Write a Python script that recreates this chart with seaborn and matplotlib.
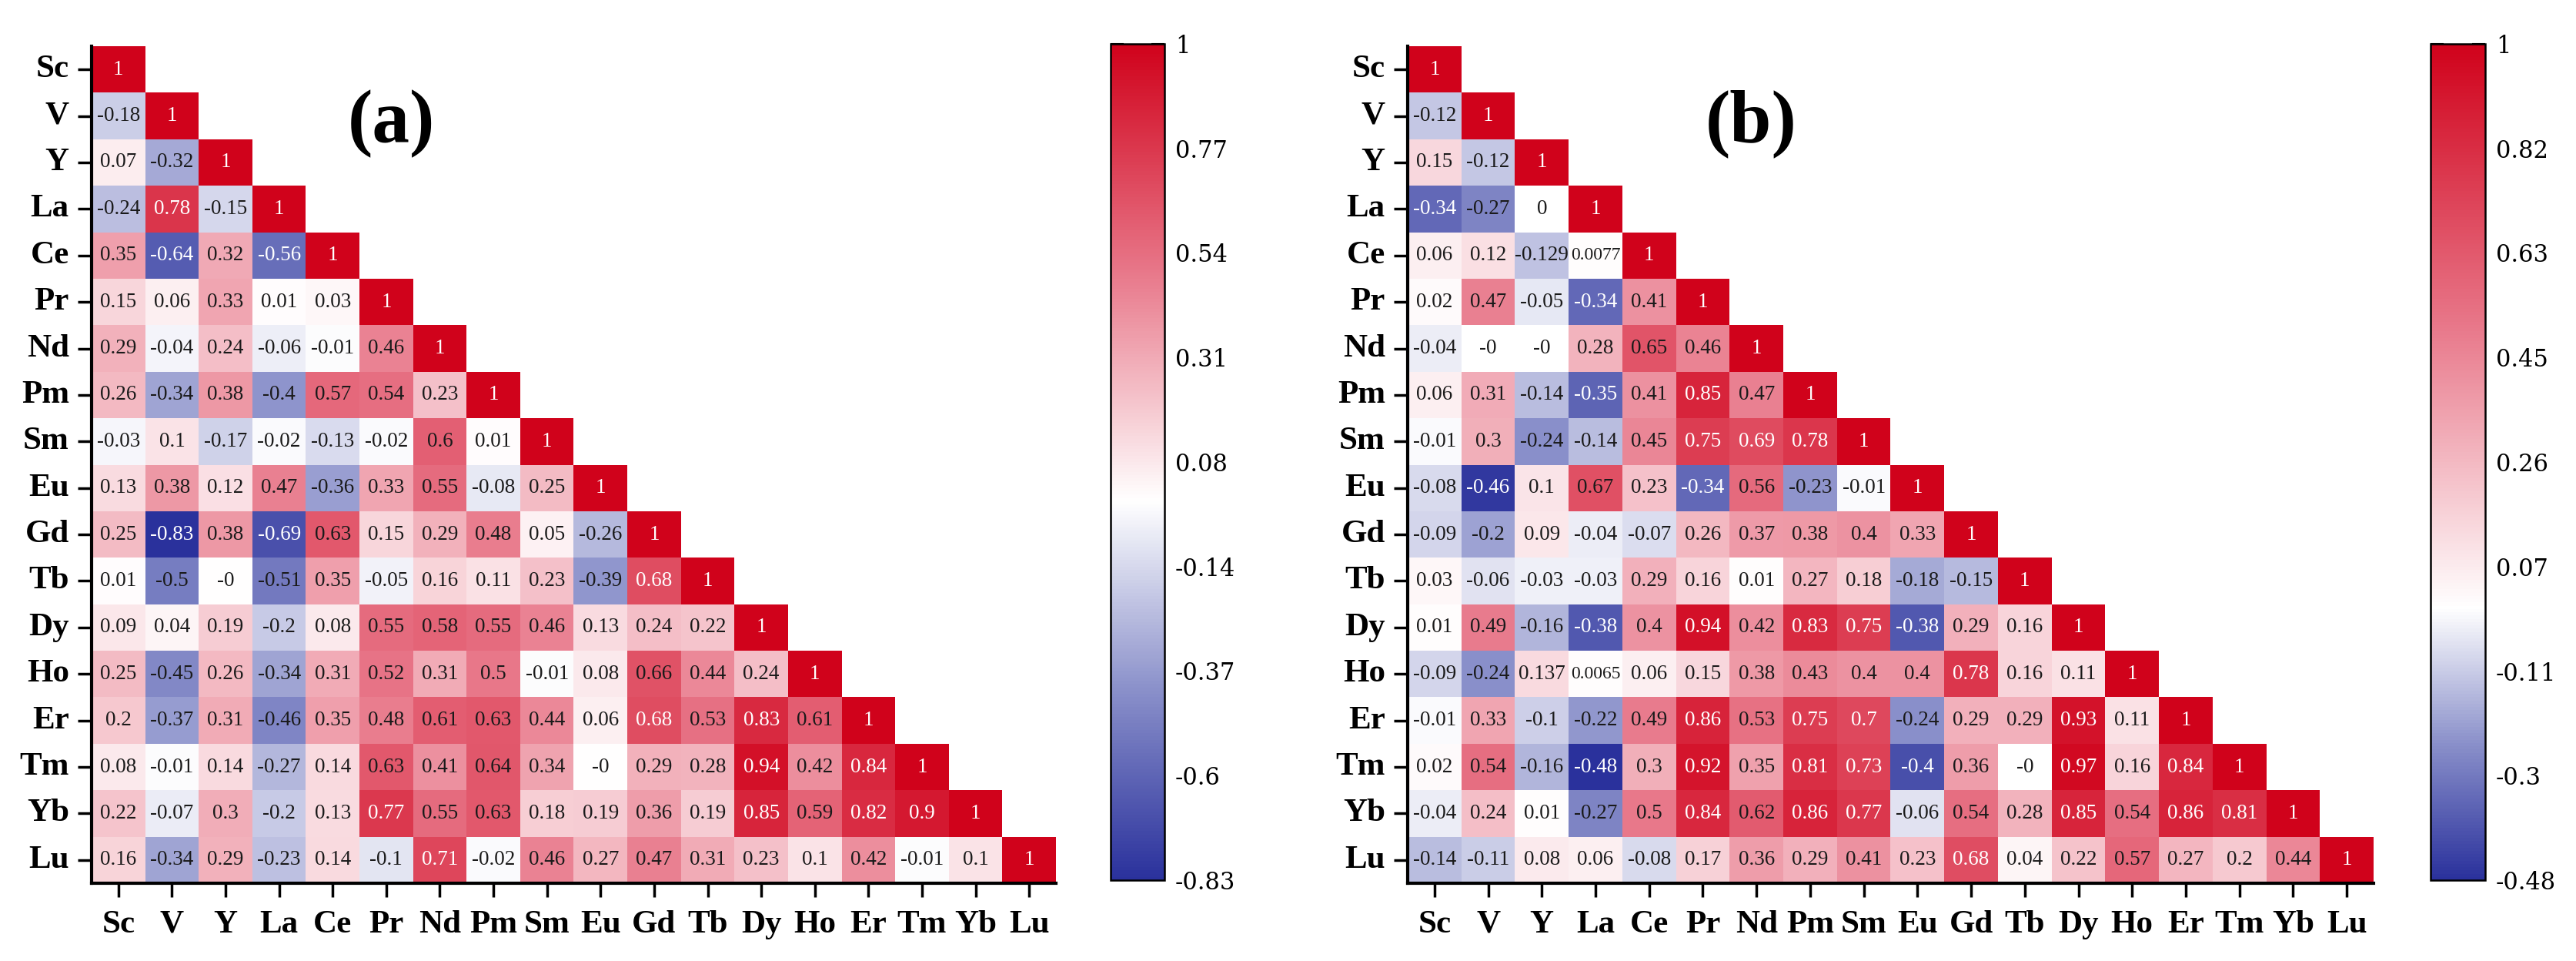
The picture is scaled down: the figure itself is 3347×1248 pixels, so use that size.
import numpy as np
import pandas as pd
import matplotlib
matplotlib.use("Agg")
import matplotlib.pyplot as plt
from matplotlib.colors import LinearSegmentedColormap
import seaborn as sns

elements = ["Sc", "V", "Y", "La", "Ce", "Pr", "Nd", "Pm", "Sm", "Eu",
            "Gd", "Tb", "Dy", "Ho", "Er", "Tm", "Yb", "Lu"]

# lower triangle, row by row (Sc ... Lu)
corr_a = [
    [1],
    [-0.18, 1],
    [0.07, -0.32, 1],
    [-0.24, 0.78, -0.15, 1],
    [0.35, -0.64, 0.32, -0.56, 1],
    [0.15, 0.06, 0.33, 0.01, 0.03, 1],
    [0.29, -0.04, 0.24, -0.06, -0.01, 0.46, 1],
    [0.26, -0.34, 0.38, -0.4, 0.57, 0.54, 0.23, 1],
    [-0.03, 0.1, -0.17, -0.02, -0.13, -0.02, 0.6, 0.01, 1],
    [0.13, 0.38, 0.12, 0.47, -0.36, 0.33, 0.55, -0.08, 0.25, 1],
    [0.25, -0.83, 0.38, -0.69, 0.63, 0.15, 0.29, 0.48, 0.05, -0.26, 1],
    [0.01, -0.5, -0.0, -0.51, 0.35, -0.05, 0.16, 0.11, 0.23, -0.39, 0.68, 1],
    [0.09, 0.04, 0.19, -0.2, 0.08, 0.55, 0.58, 0.55, 0.46, 0.13, 0.24, 0.22, 1],
    [0.25, -0.45, 0.26, -0.34, 0.31, 0.52, 0.31, 0.5, -0.01, 0.08, 0.66, 0.44, 0.24, 1],
    [0.2, -0.37, 0.31, -0.46, 0.35, 0.48, 0.61, 0.63, 0.44, 0.06, 0.68, 0.53, 0.83, 0.61, 1],
    [0.08, -0.01, 0.14, -0.27, 0.14, 0.63, 0.41, 0.64, 0.34, -0.0, 0.29, 0.28, 0.94, 0.42, 0.84, 1],
    [0.22, -0.07, 0.3, -0.2, 0.13, 0.77, 0.55, 0.63, 0.18, 0.19, 0.36, 0.19, 0.85, 0.59, 0.82, 0.9, 1],
    [0.16, -0.34, 0.29, -0.23, 0.14, -0.1, 0.71, -0.02, 0.46, 0.27, 0.47, 0.31, 0.23, 0.1, 0.42, -0.01, 0.1, 1],
]

corr_b = [
    [1],
    [-0.12, 1],
    [0.15, -0.12, 1],
    [-0.34, -0.27, 0, 1],
    [0.06, 0.12, -0.129, 0.0077, 1],
    [0.02, 0.47, -0.05, -0.34, 0.41, 1],
    [-0.04, -0.0, -0.0, 0.28, 0.65, 0.46, 1],
    [0.06, 0.31, -0.14, -0.35, 0.41, 0.85, 0.47, 1],
    [-0.01, 0.3, -0.24, -0.14, 0.45, 0.75, 0.69, 0.78, 1],
    [-0.08, -0.46, 0.1, 0.67, 0.23, -0.34, 0.56, -0.23, -0.01, 1],
    [-0.09, -0.2, 0.09, -0.04, -0.07, 0.26, 0.37, 0.38, 0.4, 0.33, 1],
    [0.03, -0.06, -0.03, -0.03, 0.29, 0.16, 0.01, 0.27, 0.18, -0.18, -0.15, 1],
    [0.01, 0.49, -0.16, -0.38, 0.4, 0.94, 0.42, 0.83, 0.75, -0.38, 0.29, 0.16, 1],
    [-0.09, -0.24, 0.137, 0.0065, 0.06, 0.15, 0.38, 0.43, 0.4, 0.4, 0.78, 0.16, 0.11, 1],
    [-0.01, 0.33, -0.1, -0.22, 0.49, 0.86, 0.53, 0.75, 0.7, -0.24, 0.29, 0.29, 0.93, 0.11, 1],
    [0.02, 0.54, -0.16, -0.48, 0.3, 0.92, 0.35, 0.81, 0.73, -0.4, 0.36, -0.0, 0.97, 0.16, 0.84, 1],
    [-0.04, 0.24, 0.01, -0.27, 0.5, 0.84, 0.62, 0.86, 0.77, -0.06, 0.54, 0.28, 0.85, 0.54, 0.86, 0.81, 1],
    [-0.14, -0.11, 0.08, 0.06, -0.08, 0.17, 0.36, 0.29, 0.41, 0.23, 0.68, 0.04, 0.22, 0.57, 0.27, 0.2, 0.44, 1],
]

cbar_labels_a = ["-0.83", "-0.6", "-0.37", "-0.14", "0.08", "0.31", "0.54", "0.77", "1"]
cbar_labels_b = ["-0.48", "-0.3", "-0.11", "0.07", "0.26", "0.45", "0.63", "0.82", "1"]

sns.set_style("white")
plt.rcParams["font.family"] = ["Liberation Serif", "DejaVu Serif"]
plt.rcParams["text.color"] = "black"
plt.rcParams["xtick.color"] = "black"
plt.rcParams["ytick.color"] = "black"

W, H = 3348, 1248
fig = plt.figure(figsize=(W / 100, H / 100), dpi=100)


def px_rect(x0, x1, y0, y1):
    return [x0 / W, 1 - y1 / H, (x1 - x0) / W, (y1 - y0) / H]


def fmt(v):
    return f"{v:.4f}".rstrip("0").rstrip(".")


def panel(rows, cbar_labels, rect, crect, tag, tag_x):
    n = len(elements)
    mat = np.full((n, n), np.nan)
    for i, r in enumerate(rows):
        mat[i, :len(r)] = r
    df = pd.DataFrame(mat, index=elements, columns=elements)
    vmin = float(cbar_labels[0])
    mid = -vmin / (1 - vmin)
    cmap = LinearSegmentedColormap.from_list(
        "rb", [(0, "#2A319C"), (mid * 0.5, "#8A90CA"), (mid, "#FFFFFF"),
               ((mid + 1) / 2, "#E8788A"), (1, "#D0021B")])
    labels = np.empty((n, n), dtype=object)
    for i in range(n):
        for j in range(n):
            labels[i, j] = fmt(mat[i, j]) if j <= i else ""
    mask = np.triu(np.ones((n, n), dtype=bool), k=1)

    ax = fig.add_axes(px_rect(*rect))
    cax = fig.add_axes(px_rect(*crect))
    sns.heatmap(df, mask=mask, cmap=cmap, vmin=vmin, vmax=1, annot=labels, fmt="",
                annot_kws={"fontsize": 19.5}, cbar_ax=cax, ax=ax)

    cells = [(i, j) for i in range(n) for j in range(n) if j <= i]
    for (i, j), t in zip(cells, ax.texts):
        v = mat[i, j]
        norm = v if v >= 0 else v / abs(vmin)
        t.set_color("white" if (norm >= 0.675 or norm <= -0.67) else "#1a1a1a")
        if 0 < abs(v) < 0.01:
            t.set_fontsize(17)

    for side in ["left", "bottom"]:
        ax.spines[side].set_visible(True)
        ax.spines[side].set_linewidth(3)
        ax.spines[side].set_color("black")
    ax.tick_params(axis="both", direction="out", length=13, width=2.5,
                   colors="black", left=True, bottom=True)
    ax.tick_params(axis="x", pad=12)
    ax.tick_params(axis="y", pad=8)
    ax.set_xticklabels(elements, rotation=0, fontsize=31, fontweight="bold")
    ax.set_yticklabels(elements, rotation=0, fontsize=31, fontweight="bold")
    ax.set_xlabel("")
    ax.set_ylabel("")
    ax.text(tag_x, 1.66, tag, fontsize=70, fontweight="bold", color="black",
            ha="center", va="center")

    cbar = ax.collections[0].colorbar
    ticks = np.linspace(vmin, 1, len(cbar_labels))
    cbar.set_ticks(ticks)
    cbar.set_ticklabels(cbar_labels)
    cbar.outline.set_linewidth(1.8)
    cbar.outline.set_edgecolor("black")
    cax.tick_params(axis="y", direction="in", left=True, right=True, labelleft=False,
                    labelright=True, length=12, width=1.5, pad=10, labelsize=22,
                    colors="black")
    for t in cax.get_yticklabels():
        t.set_fontfamily("DejaVu Serif")
    return ax


panel(corr_a, cbar_labels_a, (119, 1372, 60, 1147), (1443, 1513, 57, 1143), "(a)", 5.6)
panel(corr_b, cbar_labels_b, (1829, 3084, 60, 1147), (3158, 3229, 57, 1143), "(b)", 6.4)

fig.savefig("out.png", dpi=100, facecolor="white")
